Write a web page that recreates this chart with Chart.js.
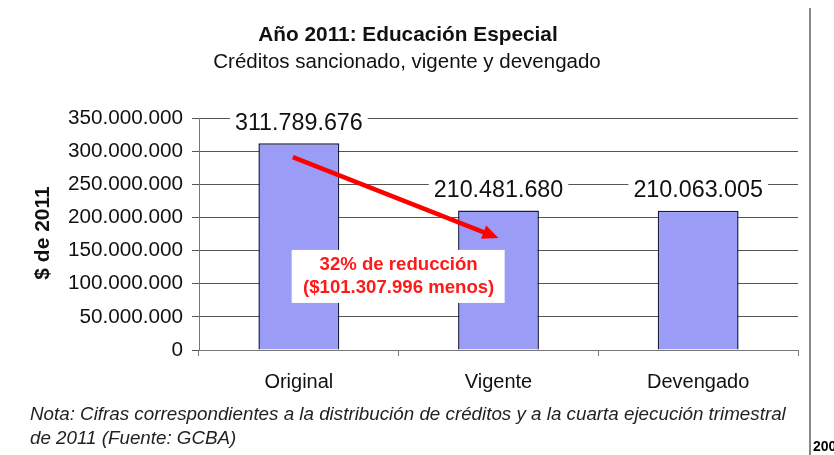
<!DOCTYPE html>
<html>
<head>
<meta charset="utf-8">
<script src="https://cdn.jsdelivr.net/npm/chart.js@4.4.1/dist/chart.umd.min.js"></script>
<style>
  html, body { margin: 0; padding: 0; background: #fff; }
  #wrap { width: 834px; height: 455px; position: relative; }
</style>
</head>
<body>
<div id="wrap"><canvas id="chart"></canvas></div>
<script>
var categories = ['Original', 'Vigente', 'Devengado'];
var values = [311789676, 210481680, 210063005];
var yTicks = [0, 50000000, 100000000, 150000000, 200000000, 250000000, 300000000, 350000000];

var titleText = 'Año 2011: Educación Especial';
var subtitleText = 'Créditos sancionado, vigente y devengado';
var yTitle = '$ de 2011';
var noteLines = [
  'Nota: Cifras correspondientes a la distribución de créditos y a la cuarta ejecución trimestral',
  'de 2011 (Fuente: GCBA)'
];
var boxLines = ['32% de reducción', '($101.307.996 menos)'];
// arrow from (category index, value) to (category index, value)
var arrowFrom = [-0.03, 291000000];
var arrowTo = [1.0, 169000000];

var FONT = '"Liberation Sans", Arial, sans-serif';

function fmt(v) {
  return String(Math.round(v)).replace(/\B(?=(\d{3})+(?!\d))/g, '.');
}

function catX(xs, idx) {
  var a = xs.getPixelForValue(0);
  var b = xs.getPixelForValue(1);
  return a + (b - a) * idx;
}

var decor = {
  id: 'decor',
  afterDatasetsDraw: function (chart) {
    var ctx = chart.ctx;
    var xs = chart.scales.x;
    var ys = chart.scales.y;
    ctx.save();

    // value labels with white backing
    ctx.font = '23.3px ' + FONT;
    ctx.textAlign = 'center';
    ctx.textBaseline = 'middle';
    for (var i = 0; i < values.length; i++) {
      var x = xs.getPixelForValue(i);
      var y = ys.getPixelForValue(values[i]) - 21;
      var w = ctx.measureText(fmt(values[i])).width;
      ctx.fillStyle = '#fff';
      ctx.fillRect(x - w / 2 - 5, y - 10, w + 10, 20);
      ctx.fillStyle = '#111';
      ctx.fillText(fmt(values[i]), x, y + 1);
    }

    // arrow
    var x1 = catX(xs, arrowFrom[0]), y1 = ys.getPixelForValue(arrowFrom[1]);
    var x2 = catX(xs, arrowTo[0]), y2 = ys.getPixelForValue(arrowTo[1]);
    var ang = Math.atan2(y2 - y1, x2 - x1);
    var hl = 16;
    ctx.strokeStyle = '#ff0000';
    ctx.fillStyle = '#ff0000';
    ctx.lineWidth = 4.5;
    ctx.beginPath();
    ctx.moveTo(x1, y1);
    ctx.lineTo(x2 - Math.cos(ang) * hl * 0.8, y2 - Math.sin(ang) * hl * 0.8);
    ctx.stroke();
    ctx.beginPath();
    ctx.moveTo(x2, y2);
    ctx.lineTo(x2 - hl * Math.cos(ang) + 7 * Math.sin(ang), y2 - hl * Math.sin(ang) - 7 * Math.cos(ang));
    ctx.lineTo(x2 - hl * Math.cos(ang) - 7 * Math.sin(ang), y2 - hl * Math.sin(ang) + 7 * Math.cos(ang));
    ctx.closePath();
    ctx.fill();

    // annotation box
    var bx = catX(xs, 0.5);
    var by1 = ys.getPixelForValue(151000000);
    var by2 = ys.getPixelForValue(71000000);
    ctx.fillStyle = '#fff';
    ctx.fillRect(bx - 107, by1, 213, by2 - by1);
    ctx.fillStyle = '#ff1a1a';
    ctx.font = 'bold 18.6px ' + FONT;
    ctx.fillText(boxLines[0], bx, by1 + 15);
    ctx.fillText(boxLines[1], bx, by1 + 38);
    ctx.restore();
  },
  afterDraw: function (chart) {
    var ctx = chart.ctx;
    ctx.save();
    ctx.textAlign = 'center';
    ctx.textBaseline = 'middle';
    ctx.fillStyle = '#111';
    ctx.font = 'bold 20.8px ' + FONT;
    ctx.fillText(titleText, 408, 35);
    ctx.font = '20.5px ' + FONT;
    ctx.fillText(subtitleText, 407, 62);

    // y axis title
    ctx.save();
    ctx.translate(43, 233);
    ctx.rotate(-Math.PI / 2);
    ctx.font = 'bold 21px ' + FONT;
    ctx.fillText(yTitle, 0, 0);
    ctx.restore();

    // note
    ctx.textAlign = 'left';
    ctx.font = 'italic 18.8px ' + FONT;
    ctx.fillStyle = '#222';
    ctx.fillText(noteLines[0], 30, 415);
    ctx.fillText(noteLines[1], 30, 439);

    // page frame
    ctx.strokeStyle = '#888';
    ctx.lineWidth = 2;
    ctx.beginPath();
    ctx.moveTo(810, 8);
    ctx.lineTo(810, 455);
    ctx.stroke();
    ctx.fillStyle = '#000';
    ctx.font = 'bold 14px ' + FONT;
    ctx.fillText('200', 813, 447);
    ctx.restore();
  }
};

new Chart(document.getElementById('chart'), {
  type: 'bar',
  data: {
    labels: categories,
    datasets: [{
      data: values,
      backgroundColor: '#9a9cf5',
      borderColor: '#1c1c3a',
      borderWidth: 1.5,
      barPercentage: 0.405,
      categoryPercentage: 1
    }]
  },
  options: {
    responsive: true,
    maintainAspectRatio: false,
    animation: false,
    layout: { padding: { top: 118, right: 36, left: 0, bottom: 0 } },
    plugins: {
      legend: { display: false },
      tooltip: { enabled: false }
    },
    scales: {
      x: {
        grid: { drawOnChartArea: false, drawTicks: true, tickLength: 6, color: '#777', offset: true },
        border: { color: '#777', width: 1 },
        ticks: { color: '#111', font: { family: FONT, size: 20 }, padding: 14 },
        afterFit: function (s) { s.height = 105; }
      },
      y: {
        min: 0,
        max: 350000000,
        afterBuildTicks: function (s) { s.ticks = yTicks.map(function (v) { return { value: v }; }); },
        grid: { color: '#555', lineWidth: 1, tickLength: 7 },
        border: { color: '#777', width: 1 },
        ticks: {
          color: '#111',
          font: { family: FONT, size: 20.7 },
          padding: 9,
          callback: function (v) { return fmt(v); }
        },
        afterFit: function (s) { s.width = 199; }
      }
    }
  },
  plugins: [decor]
});
</script>
</body>
</html>
